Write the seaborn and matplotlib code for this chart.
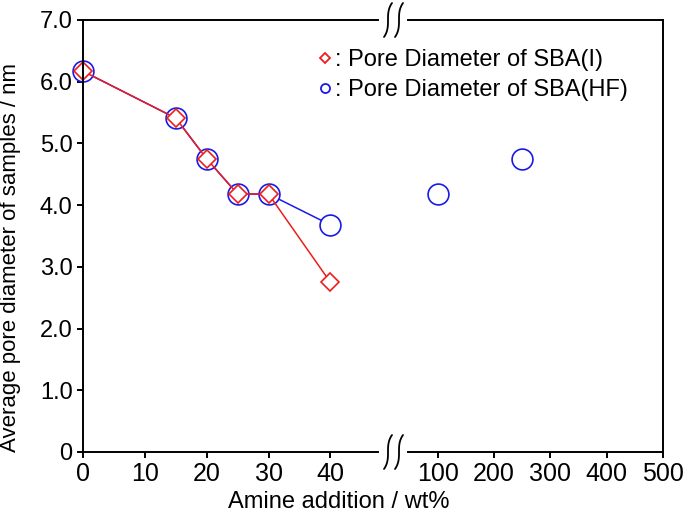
import numpy as np
import pandas as pd
import matplotlib.pyplot as plt
import seaborn as sns
from matplotlib.lines import Line2D

# data
amine_I = [0, 15, 20, 25, 30, 40]
pore_I = [6.17, 5.41, 4.75, 4.18, 4.18, 2.75]
amine_HF = [0, 15, 20, 25, 30, 40]
pore_HF = [6.17, 5.41, 4.75, 4.18, 4.18, 3.68]
amine_HF_high = [100, 250]
pore_HF_high = [4.18, 4.75]

left_ticks = [0, 10, 20, 30, 40]
right_ticks = [100, 200, 300, 400, 500]
y_ticks = [0, 1, 2, 3, 4, 5, 6, 7]
y_labels = ["0", "1.0", "2.0", "3.0", "4.0", "5.0", "6.0", "7.0"]

sns.set_style("ticks")
plt.rcParams['font.family'] = ['Liberation Sans', 'DejaVu Sans']
plt.rcParams['text.color'] = 'black'
plt.rcParams['xtick.color'] = 'black'
plt.rcParams['ytick.color'] = 'black'

W, H = 685, 513
fig = plt.figure(figsize=(6.85, 5.13), dpi=100)
ax1 = fig.add_axes([83 / W, 1 - 452 / H, (378 - 83) / W, (452 - 20) / H])
ax2 = fig.add_axes([408 / W, 1 - 452 / H, (663 - 408) / W, (452 - 20) / H], sharey=ax1)

df_I = pd.DataFrame({"x": amine_I, "y": pore_I})
df_HF = pd.DataFrame({"x": amine_HF, "y": pore_HF})
df_HF2 = pd.DataFrame({"x": amine_HF_high, "y": pore_HF_high})

blue = "#1a1ae6"
red = "#ee1c1c"
sns.lineplot(data=df_HF, x="x", y="y", ax=ax1, color=blue, lw=1.1,
             marker="o", markersize=15, markerfacecolor="white",
             markeredgecolor=blue, markeredgewidth=1.2, clip_on=False)
sns.lineplot(data=df_I, x="x", y="y", ax=ax1, color=red, lw=1.1,
             marker="D", markersize=9, markerfacecolor="white",
             markeredgecolor=red, markeredgewidth=1.2, clip_on=False)
sns.scatterplot(data=df_HF2, x="x", y="y", ax=ax2, s=15 ** 2, marker="o",
                facecolor="white", edgecolor=blue, linewidth=1.2)

ax1.set_xlim(0, 47.7)
ax2.set_xlim(47, 500)
ax1.set_ylim(0, 7)
ax1.set_xticks(left_ticks)
ax2.set_xticks(right_ticks)
ax1.set_yticks(y_ticks)
ax1.set_yticklabels(y_labels)

for ax in (ax1, ax2):
    ax.set_xlabel("")
    ax.set_ylabel("")
    for s in ax.spines.values():
        s.set_linewidth(1.4)
        s.set_color("black")
    ax.tick_params(direction="out", length=4.5, width=1.4, labelsize=17, pad=3)

ax1.spines["right"].set_visible(False)
ax2.spines["left"].set_visible(False)
ax2.tick_params(axis="y", left=False, labelleft=False)

for lab in ax1.get_xticklabels() + ax2.get_xticklabels():
    lab.set_family(['Liberation Sans Narrow', 'Liberation Sans'])
    lab.set_fontsize(18)

# break marks
t = np.linspace(-1, 1, 40)
for yc in (20, 452):
    for xc in (388, 399):
        xs = (xc + 4 * t ** 3) / W
        ys = 1 - (yc - 17 * t) / H
        fig.add_artist(Line2D(xs, ys, color="black", lw=1.3))

fig.text(339 / W, 1 - 502 / H, "Amine addition / wt%", ha="center", va="center", fontsize=17)
fig.text(11 / W, 1 - 257 / H, "Average pore diameter of samples / nm", ha="center",
         va="center", rotation=90, fontsize=16)

handles = [
    Line2D([], [], ls="none", marker="D", markersize=5.5, markerfacecolor="white",
           markeredgecolor=red, markeredgewidth=1.3),
    Line2D([], [], ls="none", marker="o", markersize=6.5, markerfacecolor="white",
           markeredgecolor=blue, markeredgewidth=1.3),
]
fig.legend(handles, [": Pore Diameter of SBA(I)", ": Pore Diameter of SBA(HF)"],
           loc="upper left", bbox_to_anchor=(304 / W, 1 - 37 / H), frameon=False,
           handlelength=0.8, handletextpad=0.0, labelspacing=0.35, fontsize=17,
           borderpad=0)

fig.savefig("out.png", dpi=100)
